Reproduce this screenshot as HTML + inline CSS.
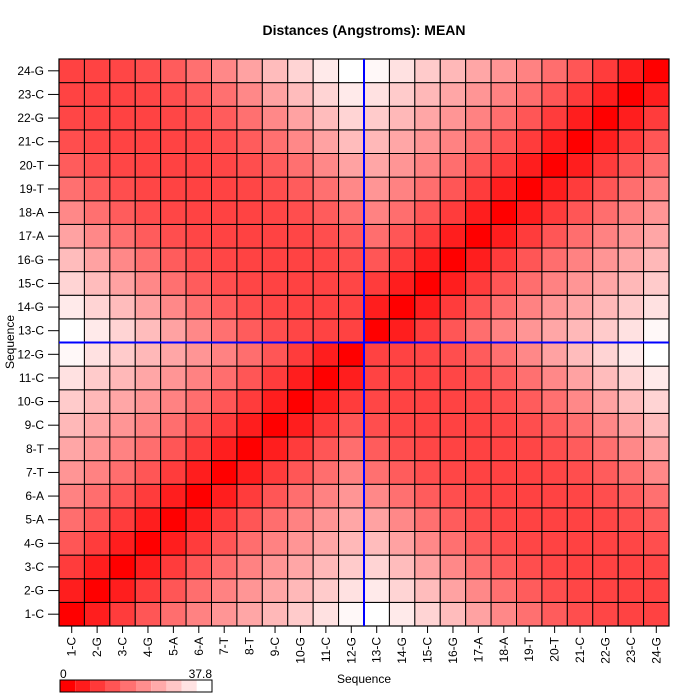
<!DOCTYPE html>
<html><head><meta charset="utf-8"><style>
body{margin:0;background:#fff;width:700px;height:700px;overflow:hidden}
svg{display:block}
text{font-family:"Liberation Sans",sans-serif;font-size:12px;fill:#000}
</style></head><body>
<svg id="s" width="700" height="700" xmlns="http://www.w3.org/2000/svg">
<text x="364" y="35" text-anchor="middle" style="font-weight:bold;font-size:14px">Distances (Angstroms):  MEAN</text>
<g id="cells"></g>
<text x="364" y="683" text-anchor="middle">Sequence</text>
<text transform="translate(14,342) rotate(-90)" text-anchor="middle">Sequence</text>
<text x="60" y="678" font-size="11">0</text>
<text x="212" y="678" text-anchor="end">37.8</text>
</svg>
<script>
const names="C G C G A A T T C G C G C G C G A A T T C G C G".split(" ");
const x0=59,y0=59,W=610,H=567,n=24,cw=W/n,ch=H/n;
function pos(i){
 let k,off=0; if(i<12){k=i}else{k=23-i;off=Math.PI}
 const a=k*36*Math.PI/180+off, r=5;
 return [r*Math.cos(a),r*Math.sin(a),3.38*k];
}
const P=[];for(let i=0;i<n;i++)P.push(pos(i));
let D=[],mx=0;
for(let i=0;i<n;i++){D[i]=[];for(let j=0;j<n;j++){const a=P[i],b=P[j];const d=Math.hypot(a[0]-b[0],a[1]-b[1],a[2]-b[2]);D[i][j]=d;if(d>mx)mx=d;}}
function col(d){const t=Math.min(1,d/mx);const v=Math.round(255*t);return `rgb(255,${v},${v})`;}
let h="";
for(let i=0;i<n;i++)for(let j=0;j<n;j++){
 const x=x0+j*cw,y=y0+(n-1-i)*ch;
 h+=`<rect x="${x}" y="${y}" width="${cw}" height="${ch}" fill="${col(D[i][j])}" stroke="#000" stroke-width="1"/>`;
}
h+=`<rect x="${x0}" y="${y0}" width="${W}" height="${H}" fill="none" stroke="#000" stroke-width="1.2"/>`;
h+=`<line x1="${x0+12*cw}" y1="${y0}" x2="${x0+12*cw}" y2="${y0+H}" stroke="#0000ff" stroke-width="2"/>`;
h+=`<line x1="${x0}" y1="${y0+12*ch}" x2="${x0+W}" y2="${y0+12*ch}" stroke="#0000ff" stroke-width="2"/>`;
for(let i=0;i<n;i++){
 const lab=(i+1)+"-"+names[i];
 const y=y0+(n-1-i)*ch+ch/2;
 h+=`<line x1="48" y1="${y}" x2="${x0}" y2="${y}" stroke="#000"/>`;
 h+=`<text x="44" y="${y+4}" text-anchor="end">${lab}</text>`;
 const x=x0+i*cw+cw/2;
 h+=`<line x1="${x}" y1="${y0+H}" x2="${x}" y2="${y0+H+7}" stroke="#000"/>`;
 h+=`<text transform="translate(${x+4},${y0+H+11}) rotate(-90)" text-anchor="end">${lab}</text>`;
}
for(let k=0;k<10;k++){h+=`<rect x="${60+k*15.2}" y="680" width="15.2" height="12" fill="${col(mx*k/9)}"/>`;}
h+=`<rect x="60" y="680" width="152" height="12" fill="none" stroke="#000"/>`;
document.getElementById("cells").innerHTML=h;
</script>
</body></html>
